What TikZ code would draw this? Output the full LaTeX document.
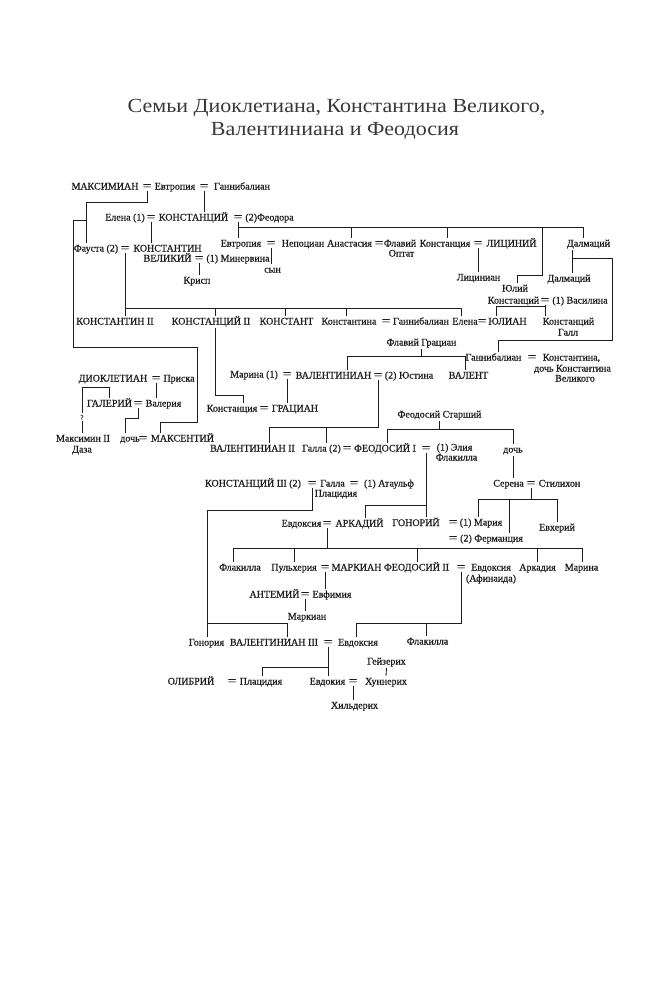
\documentclass[tikz,border=0pt]{standalone}
\usepackage{fontspec}
\usepackage{graphicx}
\setmainfont{Liberation Serif}
\newfontfamily\nmfont{Liberation Serif}[FakeBold=0.6]
\definecolor{ink}{HTML}{1E1E1E}
\newcommand{\eqs}{\scalebox{1.5}[1.15]{=}}
\tikzset{
  nm/.style={anchor=base, inner sep=1.5pt, text height=7pt, text depth=2pt, font=\nmfont\fontsize{10}{12}\selectfont, text=ink},
  eq/.style={anchor=base, inner xsep=0.5pt, inner ysep=1pt, text height=5pt, text depth=0pt, font=\nmfont\fontsize{10}{12}\selectfont, text=ink},
  ttl/.style={anchor=base, inner sep=0pt, font=\fontsize{20}{24}\selectfont, text=ink!88, xscale=1.1},
  ln/.style={draw=ink, line width=0.85pt},
}
\begin{document}
\begin{tikzpicture}[x=1pt,y=-1pt]
\useasboundingbox[fill=white] (0,0) rectangle (662,1001);
% title
\node[ttl] (title1) at (336.5,112) {Семьи Диоклетиана, Константина Великого,};
\node[ttl] (title2) at (335,135) {Валентиниана и Феодосия};
% row A
\node[nm] (maxim) at (105,189.5) {МАКСИМИАН};
\node[eq] (eqA1) at (147,189.5) {\eqs};
\node[nm] (evtr1) at (175,189.5) {Евтропия};
\node[eq] (eqA2) at (204,189.5) {\eqs};
\node[nm] (gannib1) at (242,189.5) {Ганнибалиан};
% row B
\node[nm] (elena1) at (125,220.5) {Елена (1)};
\node[eq] (eqB1) at (151,220.5) {\eqs};
\node[nm] (konstancij) at (193.5,220.5) {КОНСТАНЦИЙ};
\node[eq] (eqB2) at (238,220.5) {\eqs};
\node[nm] (feodora) at (269.5,220.5) {(2)Феодора};
% row C left
\node[nm] (fausta) at (96,251.5) {Фауста (2)};
\node[eq] (eqC1) at (125,251.5) {\eqs};
\node[nm] (konstantin) at (167.5,251.5) {КОНСТАНТИН};
\node[nm] (velikij) at (167.5,261.5) {ВЕЛИКИЙ};
\node[eq] (eqV) at (199,261.5) {\eqs};
\node[nm] (minervina) at (238,261.5) {(1) Минервина};
\node[nm] (krisp) at (197,283.5) {Крисп};
% row C right
\node[nm] (evtr2) at (241,246.5) {Евтропия};
\node[eq] (eqC2) at (271,246.5) {\eqs};
\node[nm] (nepocian) at (303,246.5) {Непоциан};
\node[nm] (anastasia) at (349.5,246.5) {Анастасия};
\node[eq] (eqC3) at (379,246.5) {\eqs};
\node[nm] (flavij) at (400,246.5) {Флавий};
\node[nm] (optat) at (401.5,256.5) {Оптат};
\node[nm] (konstancia1) at (445,246.5) {Констанция};
\node[eq] (eqC4) at (478,246.5) {\eqs};
\node[nm] (licinij) at (511.5,246.5) {ЛИЦИНИЙ};
\node[nm] (dalm1) at (588.5,246.5) {Далмаций};
\node[nm] (syn) at (272.5,272.5) {сын};
\node[nm] (licinian) at (478.5,280.5) {Лициниан};
\node[nm] (dalm2) at (569,281.5) {Далмаций};
\node[nm] (yulij) at (515,291.5) {Юлий};
\node[nm] (konstancij2) at (513.5,303.5) {Констанций};
\node[eq] (eqJ) at (545,303.5) {\eqs};
\node[nm] (vasilina) at (580,303.5) {(1) Василина};
% row D
\node[nm] (konst2) at (115,324.5) {КОНСТАНТИН II};
\node[nm] (konstancijii) at (211,324.5) {КОНСТАНЦИЙ II};
\node[nm] (konstant) at (286.5,324.5) {КОНСТАНТ};
\node[nm] (konstantina) at (349,324.5) {Константина};
\node[eq] (eqD1) at (386,324.5) {\eqs};
\node[nm] (gannib2) at (421,324.5) {Ганнибалиан};
\node[nm] (elena2) at (465,324.5) {Елена};
\node[eq] (eqD2) at (482,324.5) {\eqs};
\node[nm] (yulian) at (507.5,324.5) {ЮЛИАН};
\node[nm] (konstancij3) at (568.5,324.5) {Констанций};
\node[nm] (gall) at (568,335.5) {Галл};
% row E
\node[nm] (flgracian) at (421.5,345.5) {Флавий Грациан};
\node[nm] (gannib3) at (493.5,360.5) {Ганнибалиан};
\node[eq] (eqE) at (532,360.5) {\eqs};
\node[nm] (konstantina2) at (571.5,360.5) {Константина,};
\node[nm] (dochk) at (572.5,371.5) {дочь Константина};
\node[nm] (velikogo) at (575,381.5) {Великого};
\node[nm] (marina1) at (254,377.5) {Марина (1)};
\node[eq] (eqM) at (287,377.5) {\eqs};
\node[nm] (valentinian) at (333.5,378.5) {ВАЛЕНТИНИАН};
\node[eq] (eqM2) at (378,378.5) {\eqs};
\node[nm] (justina) at (409,378.5) {(2) Юстина};
\node[nm] (valent) at (468.5,378.5) {ВАЛЕНТ};
\node[nm] (diocl) at (113,381.5) {ДИОКЛЕТИАН};
\node[eq] (eqDi) at (156,381.5) {\eqs};
\node[nm] (priska) at (179,381.5) {Приска};
\node[nm] (galerij) at (109.5,406.5) {ГАЛЕРИЙ};
\node[eq] (eqG) at (138,406.5) {\eqs};
\node[nm] (valeria) at (163.5,406.5) {Валерия};
\node[nm] (konstancia2) at (232,411.5) {Констанция};
\node[eq] (eqK) at (264,411.5) {\eqs};
\node[nm] (gracian) at (295,411.5) {ГРАЦИАН};
\node[nm, font=\nmfont\fontsize{7}{8}\selectfont, text height=5pt, text depth=0pt] (q) at (82,419.5) {?};
\node[nm] (maksimin) at (83,441.5) {Максимин II};
\node[nm] (daza) at (82,452.5) {Даза};
\node[nm] (doch1) at (130,441.5) {дочь};
\node[eq] (eqDo) at (143,441.5) {\eqs};
\node[nm] (maksentij) at (182.5,441.5) {МАКСЕНТИЙ};
% row F
\node[nm] (feodst) at (439.5,417.5) {Феодосий Старший};
\node[nm] (valentinian2) at (252.5,451.5) {ВАЛЕНТИНИАН II};
\node[nm] (galla1) at (321.5,451.5) {Галла (2)};
\node[eq] (eqF1) at (347,451.5) {\eqs};
\node[nm] (feodosij1) at (385,451.5) {ФЕОДОСИЙ I};
\node[eq] (eqF2) at (426,451.5) {\eqs};
\node[nm] (elija) at (454.5,450.5) {(1) Элия};
\node[nm] (flakilla0) at (456.5,460.5) {Флакилла};
\node[nm] (doch2) at (513,452.5) {дочь};
% row G
\node[nm] (konstanciji3) at (253,486.5) {КОНСТАНЦИЙ III (2)};
\node[eq] (eqG1) at (312,486.5) {\eqs};
\node[nm] (galla2) at (332.5,486.5) {Галла};
\node[eq] (eqG2) at (354,486.5) {\eqs};
\node[nm] (ataulf) at (389,486.5) {(1) Атаульф};
\node[nm] (placidia1) at (336,496.5) {Плацидия};
\node[nm] (serena) at (508.5,486.5) {Серена};
\node[eq] (eqS) at (531,486.5) {\eqs};
\node[nm] (stilihon) at (559.5,486.5) {Стилихон};
% row H
\node[nm] (evdoksia1) at (301.5,526.5) {Евдоксия};
\node[eq] (eqH1) at (327,526.5) {\eqs};
\node[nm] (arkadij) at (359.5,526.5) {АРКАДИЙ};
\node[nm] (gonorij) at (416,526) {ГОНОРИЙ};
\node[eq] (eqH2) at (453,525.5) {\eqs};
\node[nm] (maria) at (481,525.5) {(1) Мария};
\node[eq] (eqH3) at (453,541.5) {\eqs};
\node[nm] (fermancia) at (491.5,541.5) {(2) Ферманция};
\node[nm] (evherij) at (557,530.5) {Евхерий};
% row I
\node[nm] (flakilla1) at (240,570.5) {Флакилла};
\node[nm] (pulheria) at (294,570.5) {Пульхерия};
\node[eq] (eqI1) at (325,570.5) {\eqs};
\node[nm] (markian) at (356.5,570.5) {МАРКИАН};
\node[nm] (feodosij2) at (416.5,570.5) {ФЕОДОСИЙ II};
\node[eq] (eqI2) at (461,570.5) {\eqs};
\node[nm] (evdoksia2) at (491,570.5) {Евдоксия};
\node[nm] (afinaida) at (491,581.5) {(Афинаида)};
\node[nm] (arkadia) at (537.5,570.5) {Аркадия};
\node[nm] (marina2) at (581.5,570.5) {Марина};
% row J
\node[nm] (antemij) at (274.5,597.5) {АНТЕМИЙ};
\node[eq] (eqJ1) at (305,597.5) {\eqs};
\node[nm] (evfimia) at (332,597.5) {Евфимия};
\node[nm] (markian2) at (307,619.5) {Маркиан};
% row K
\node[nm] (gonoria) at (206.5,645.5) {Гонория};
\node[nm] (valentinian3) at (274,645.5) {ВАЛЕНТИНИАН III};
\node[eq] (eqK1) at (328,645.5) {\eqs};
\node[nm] (evdoksia3) at (358,645.5) {Евдоксия};
\node[nm] (flakilla2) at (427.5,644.5) {Флакилла};
% row L
\node[nm] (olibrij) at (191,684.5) {ОЛИБРИЙ};
\node[eq] (eqL1) at (232,684.5) {\eqs};
\node[nm] (placidia2) at (261,684.5) {Плацидия};
\node[nm] (evdokia) at (327.5,684.5) {Евдокия};
\node[eq] (eqL2) at (353,684.5) {\eqs};
\node[nm] (hunnerih) at (386,684.5) {Хуннерих};
\node[nm] (gejzerih) at (386.5,664.5) {Гейзерих};
\node[nm] (hilderih) at (354.5,708.5) {Хильдерих};

% connectors
\draw[ln] (eqA1.south) |- (86,202) -- (fausta.north -| 86,0);
\draw[ln] (86,220) -| (73,347) -| (197,422) -| (maksentij.north -| 160,0);
\draw[ln] (eqA2.south) -- (konstancij.north -| eqA2.south);
\draw[ln] (eqB1.south) -- (konstantin.north -| eqB1.south);
\draw[ln] (eqB2.south) -- (evtr2.north -| eqB2.south);
\draw[ln] (eqB2.south |- 0,227) -| (dalm1.north -| 583,0);
\draw[ln] (351,227) -- (anastasia.north -| 351,0);
\draw[ln] (447,227) -- (konstancia1.north -| 447,0);
\draw[ln] (542,227) |- (517,275) -- (yulij.north -| 517,0);
\draw[ln] (eqC2.south) -- (syn.north -| eqC2.south);
\draw[ln] (eqV.south) -- (krisp.north -| eqV.south);
\draw[ln] (eqC4.south) -- (licinian.north -| eqC4.south);
\draw[ln] (dalm1.south -| 572,0) -- (dalm2.north -| 572,0);
\draw[ln] (572,258) -| (612,340) -| (gannib3.north -| 498,0);
\draw[ln] (eqJ.south) -- (konstancij3.north -| eqJ.south);
\draw[ln] (eqJ.south |- 0,306) -| (yulian.north -| 496,0);
\draw[ln] (eqC1.south) -- (konst2.north -| eqC1.south);
\draw[ln] (125,308) -| (elena2.north -| 461,0);
\draw[ln] (215,308) -- (konstancijii.north -| 215,0);
\draw[ln] (285,308) -- (konstant.north -| 285,0);
\draw[ln] (346,308) -- (konstantina.north -| 346,0);
\draw[ln] (konstancijii.south -| 215,0) |- (243,395) -- (konstancia2.north -| 243,0);
\draw[ln] (eqM.south) -- (gracian.north -| eqM.south);
\draw[ln] (flgracian.south) -- (flgracian.south |- 0,356);
\draw[ln] (valentinian.north -| 347,0) |- (465,356) -- (valent.north -| 465,0);
\draw[ln] (eqM2.south) |- (269,427) -- (valentinian2.north -| 269,0);
\draw[ln] (326,427) -- (galla1.north -| 326,0);
\draw[ln] (galerij.north) |- (82,387) -- (q.north);
\draw[ln] (q.south) -- (maksimin.north -| q.south);
\draw[ln] (eqDi.south) -- (valeria.north -| eqDi.south);
\draw[ln] (eqG.south) |- (125,418) -- (doch1.north -| 125,0);
\draw[ln] (feodst.south) -- (feodst.south |- 0,429);
\draw[ln] (feodosij1.north -| 387,0) |- (513,429) -- (doch2.north -| 513,0);
\draw[ln] (eqF2.south) -- (gonorij.north -| eqF2.south);
\draw[ln] (eqF2.south |- 0,505) -| (arkadij.north -| 365,0);
\draw[ln] (doch2.south) -- (serena.north -| doch2.south);
\draw[ln] (eqS.south) -- (eqS.south |- 0,499);
\draw[ln] (maria.north -| 478,0) |- (557,499) -- (evherij.north -| 557,0);
\draw[ln] (509,499) -- (fermancia.north -| 509,0);
\draw[ln] (eqG1.south) |- (207,510) -- (gonoria.north -| 207,0);
\draw[ln] (207,623) -| (valentinian3.north -| 287,0);
\draw[ln] (eqH1.south) -- (eqH1.south |- 0,548);
\draw[ln] (flakilla1.north -| 233,0) |- (582,548) -- (marina2.north -| 582,0);
\draw[ln] (294,548) -- (pulheria.north -| 294,0);
\draw[ln] (417,548) -- (feodosij2.north -| 417,0);
\draw[ln] (537,548) -- (arkadia.north -| 537,0);
\draw[ln] (eqI1.south) -- (evfimia.north -| eqI1.south);
\draw[ln] (eqJ1.south) -- (markian2.north -| eqJ1.south);
\draw[ln] (eqI2.south) |- (356,623) -- (evdoksia3.north -| 356,0);
\draw[ln] (426,623) -- (flakilla2.north -| 426,0);
\draw[ln] (eqK1.south) -- (evdokia.north -| eqK1.south);
\draw[ln] (eqK1.south |- 0,667) -| (placidia2.north -| 262,0);
\draw[ln] (gejzerih.south) -- (hunnerih.north);
\draw[ln] (eqL2.south) -- (hilderih.north -| eqL2.south);
\end{tikzpicture}
\end{document}
